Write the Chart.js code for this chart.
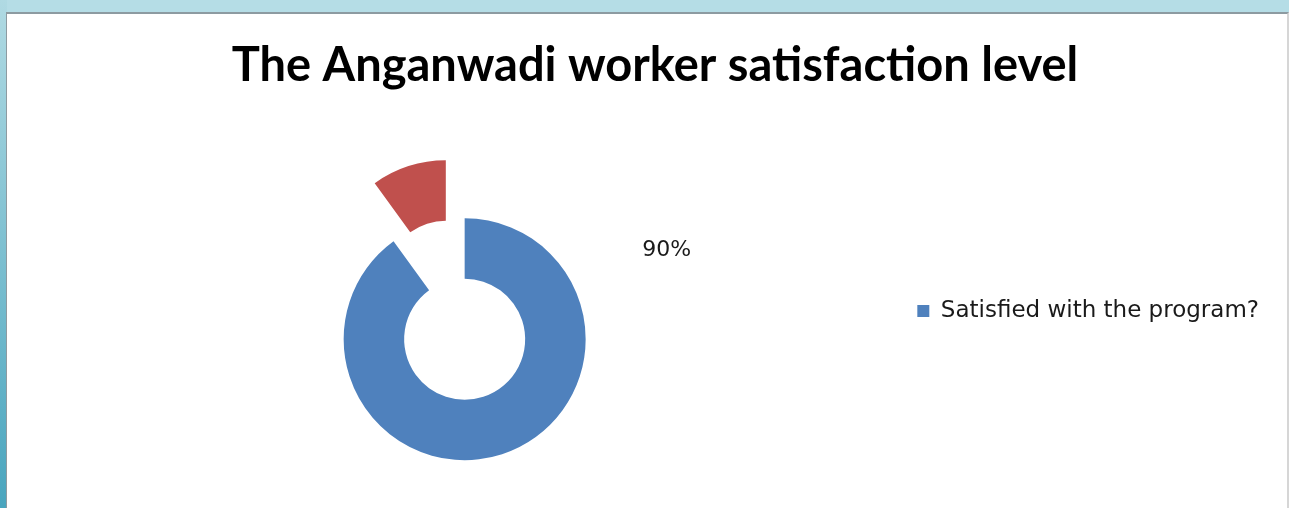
<!DOCTYPE html>
<html>
<head>
<meta charset="utf-8">
<title>Anganwadi worker satisfaction level</title>
<script src="https://cdn.jsdelivr.net/npm/chart.js@4.4.1/dist/chart.umd.min.js"></script>
<style>
  html, body { margin: 0; padding: 0; }
  body { width: 1289px; height: 508px; background: #b5dde6; position: relative; overflow: hidden; }
  #edge { position: absolute; left: 0; top: 0; width: 7px; height: 508px; background: linear-gradient(#b0dae3, #49a5be); }
  #frame { position: absolute; left: 6px; top: 12px; width: 1283px; height: 496px; box-sizing: border-box;
           background: #fff; border-top: 2px solid #8d9ba1; border-left: 1px solid #8d9ba1; border-right: 2px solid #d6d6d6; }
  #chart { position: absolute; left: 7px; top: 13px; }
</style>
</head>
<body>
<div id="edge"></div>
<div id="frame"></div>
<canvas id="chart" width="1280" height="495"></canvas>
<script>
const categories = ['Satisfied with the program?', ''];
const satisfaction = [90, 10];
const sliceColours = ['#4f81bd', '#c0504d'];
const explodeBy = [0, 61];

// push selected slices straight out along their mid angle (radii unchanged)
const explodeSlices = {
    id: 'explodeSlices',
    afterDatasetUpdate(chart, args, opts) {
        const arcs = chart.getDatasetMeta(args.index).data;
        arcs.forEach(function (arc, i) {
            const d = (opts.distance || [])[i] || 0;
            if (!d) return;
            const mid = (arc.startAngle + arc.endAngle) / 2;
            arc.x += Math.cos(mid) * d;
            arc.y += Math.sin(mid) * d;
        });
    }
};

// percentage text for one slice, placed relative to the ring centre
const sliceValueLabel = {
    id: 'sliceValueLabel',
    afterDatasetsDraw(chart, args, opts) {
        const values = chart.data.datasets[0].data;
        const total = values.reduce((a, b) => a + b, 0);
        const arc = chart.getDatasetMeta(0).data[opts.index];
        const pct = Math.round(values[opts.index] / total * 100);
        const ctx = chart.ctx;
        ctx.save();
        ctx.font = opts.font;
        ctx.fillStyle = opts.color;
        ctx.textAlign = 'center';
        ctx.textBaseline = 'middle';
        ctx.fillText(pct + '%', arc.x + opts.dx, arc.y + opts.dy);
        ctx.restore();
    }
};

new Chart(document.getElementById('chart'), {
    type: 'doughnut',
    data: {
        labels: categories,
        datasets: [{
            data: satisfaction,
            backgroundColor: sliceColours,
            borderWidth: 0
        }]
    },
    options: {
        responsive: false,
        animation: false,
        radius: 121,
        cutout: '50%',
        rotation: 0,
        layout: { padding: { left: 34, right: 18, top: 0, bottom: 100 } },
        plugins: {
            title: {
                display: true,
                text: 'The Anganwadi worker satisfaction level',
                color: '#000',
                font: { family: 'Lato', size: 47, weight: 'bold' },
                padding: { top: 25, bottom: 176 }
            },
            legend: {
                position: 'right',
                align: 'start',
                fullSize: false,
                labels: {
                    boxWidth: 12,
                    boxHeight: 12,
                    padding: 29,
                    color: '#1a1a1a',
                    font: { family: 'DejaVu Sans', size: 23 },
                    filter: item => item.text !== ''
                }
            },
            tooltip: { enabled: false },
            explodeSlices: { distance: explodeBy },
            sliceValueLabel: { index: 0, dx: 202, dy: -89, font: '22px "DejaVu Sans"', color: '#1a1a1a' }
        }
    },
    plugins: [explodeSlices, sliceValueLabel]
});
</script>
</body>
</html>
